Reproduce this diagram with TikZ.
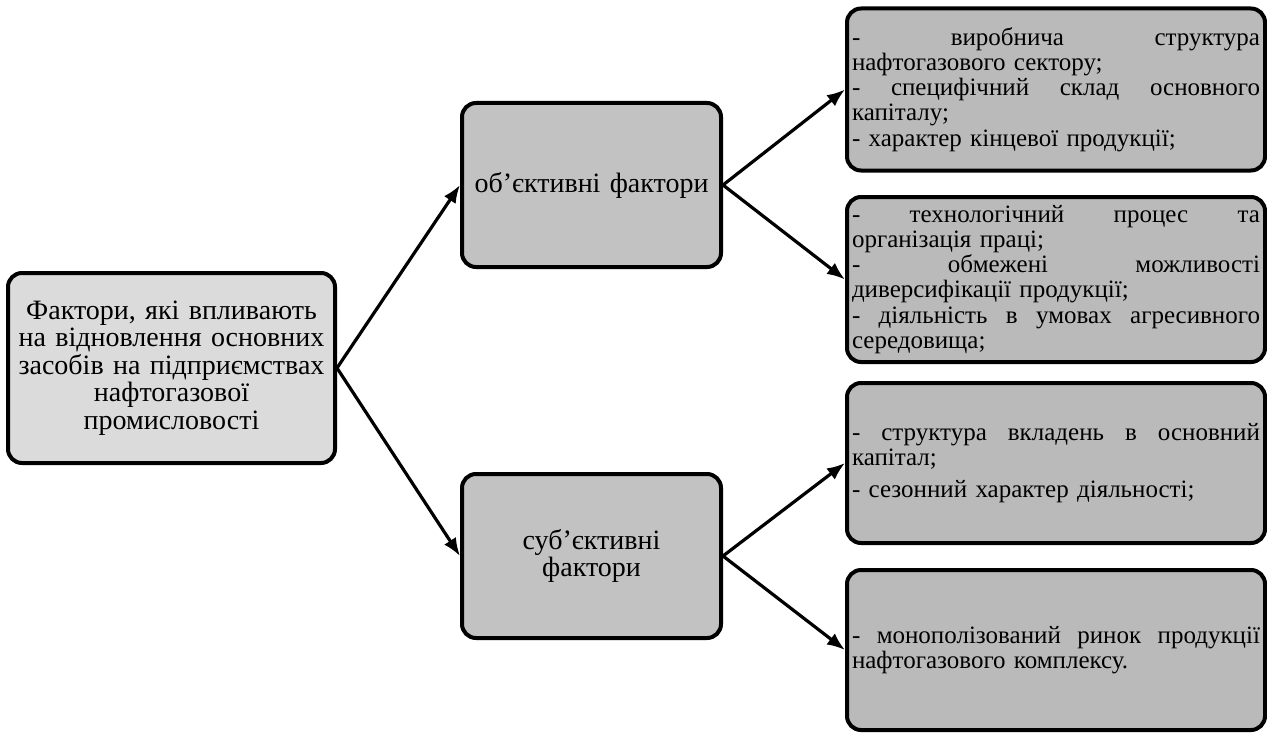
\documentclass[tikz,border=0pt]{standalone}
\usepackage{fontspec}
\setmainfont{Liberation Serif}
\usetikzlibrary{arrows.meta}
\begin{document}
\begin{tikzpicture}[x=0.5pt,y=-0.5pt,
    rbox/.style={draw,line width=2pt,rounded corners=7pt,inner sep=2pt},
    mainbox/.style={rbox,fill=black!14,minimum width=163.5pt,minimum height=95pt,text width=155pt,align=center,font=\fontsize{14}{13.8}\selectfont},
    factbox/.style={rbox,fill=black!24,minimum width=129.5pt,minimum height=82pt,text width=124pt,align=center,font=\fontsize{14}{13.8}\selectfont},
    listbox/.style={rbox,fill=black!27,minimum width=209pt,minimum height=81pt,text width=204pt,align=left,font=\fontsize{12.5}{12.6}\selectfont},
    link/.style={-{Latex[length=9pt,width=7pt]},line width=1.6pt}]
            \useasboundingbox(0,0)rectangle(1267,733);
            \coordinate(A0)at(171.5,368);
            \coordinate(A1)at(591.5,185);
            \coordinate(A2)at(591.5,556);
            \coordinate(A3)at(1056,89.5);
            \coordinate(A4)at(1056,279.5);
            \coordinate(A5)at(1056,463);
            \coordinate(A6)at(1056,650);
            \node[mainbox](B0)at(A0){Фактори, які впливають\\ на відновлення основних\\ засобів на підприємствах\\ нафтогазової\\ промисловості};
            \node[factbox](B1)at(A1){об’єктивні фактори};
            \node[factbox](B2)at(A2){суб’єктивні\\ фактори};
            \node[listbox](B3)at(A3){- \hfill виробнича \hfill структура\\ нафтогазового сектору;\\ - \hfill специфічний \hfill склад \hfill основного\\ капіталу;\\ - характер кінцевої продукції;};
            \node[listbox,minimum height=82.5pt](B4)at(A4){- \hfill технологічний \hfill процес \hfill та\\ організація праці;\\ - \hfill обмежені \hfill можливості\\ диверсифікації продукції;\\ - \hfill діяльність \hfill в \hfill умовах \hfill агресивного\\ середовища;};
            \node[listbox,minimum height=80pt](B5)at(A5){- \hfill структура \hfill вкладень \hfill в \hfill основний\\ капітал;\\[3pt] - сезонний характер діяльності;};
            \node[listbox,minimum height=80pt](B6)at(A6){- \hfill монополізований \hfill ринок \hfill продукції\\ нафтогазового комплексу.};
            \draw[link](B0.east)--(B1.west);
            \draw[link](B0.east)--(B2.west);
            \draw[link](B1.east)--(B3.west);
            \draw[link](B1.east)--(B4.west);
            \draw[link](B2.east)--(B5.west);
            \draw[link](B2.east)--(B6.west);
        \end{tikzpicture}
\end{document}
